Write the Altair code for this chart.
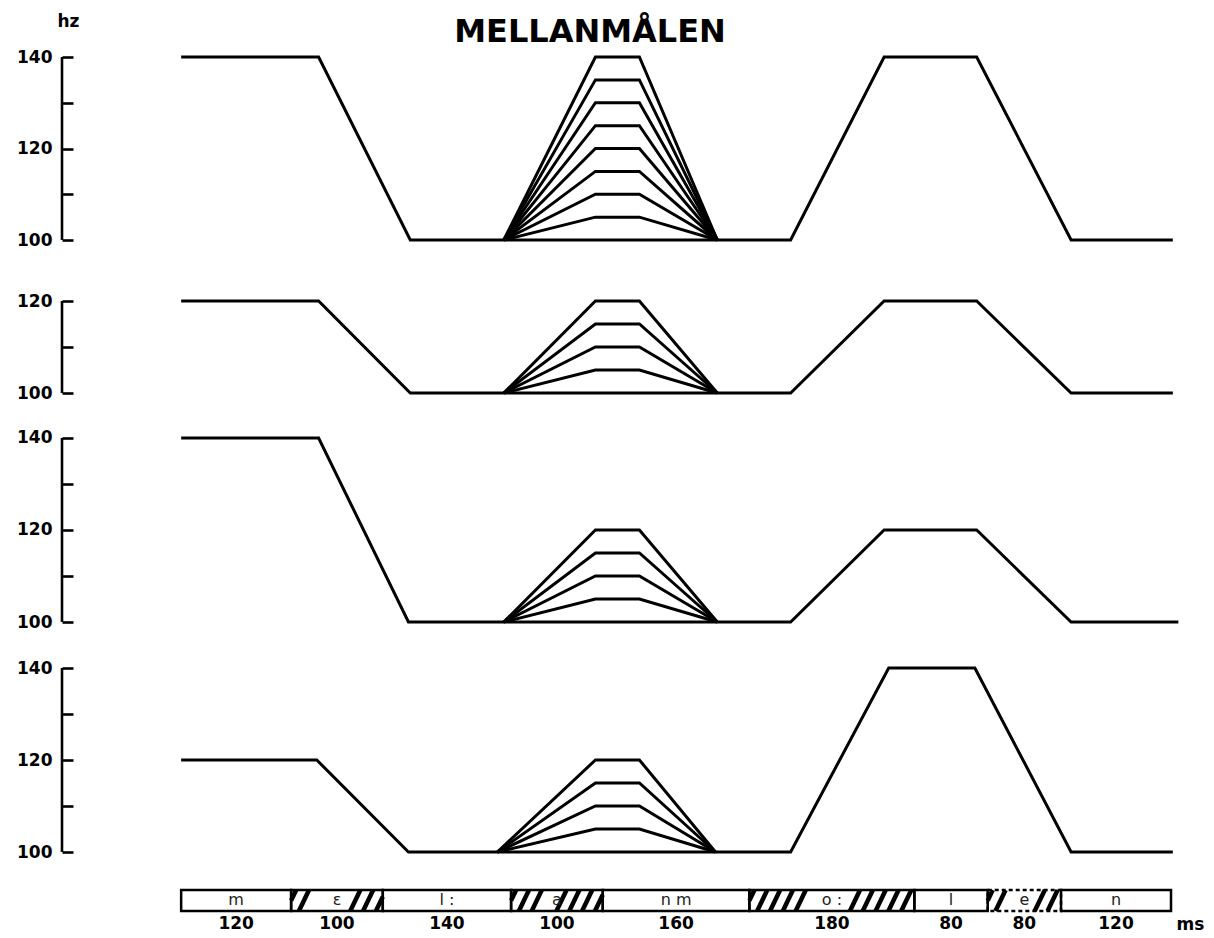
import altair as alt
import numpy as np
import pandas as pd

FONT = "DejaVu Sans"
TITLE = "MELLANMÅLEN"
X_DOMAIN = [-130, 1080]
PLOT_W = 1109

# ---------------- F0 contours (time in ms, frequency in Hz) ----------------
p1_t = [0, 150, 250, 665, 767, 868, 971, 1082]
p1_hz = [140, 140, 100, 100, 140, 140, 100, 100]
p1_fan_t = [352, 452, 500, 585]
p1_fan = [105, 110, 115, 120, 125, 130, 135, 140]

p2_t = [0, 150, 250, 665, 767, 868, 971, 1082]
p2_hz = [120, 120, 100, 100, 120, 120, 100, 100]
p2_fan_t = [352, 452, 500, 585]
p2_fan = [105, 110, 115, 120]

p3_t = [0, 150, 248, 665, 767, 868, 971, 1088]
p3_hz = [140, 140, 100, 100, 120, 120, 100, 100]
p3_fan_t = [352, 452, 500, 585]
p3_fan = [105, 110, 115, 120]

p4_t = [0, 148, 248, 665, 772, 866, 971, 1082]
p4_hz = [120, 120, 100, 100, 140, 140, 100, 100]
p4_fan_t = [345, 452, 500, 583]
p4_fan = [105, 110, 115, 120]

ticks_140 = [100, 110, 120, 130, 140]
ticks_120 = [100, 110, 120]

# ---------------- segment bar ----------------
seg_labels = ["m", "ε", "l :", "a", "n m", "o :", "l", "e", "n"]
seg_durations = [120, 100, 140, 100, 160, 180, 80, 80, 120]
seg_dashed = [False, False, False, False, False, False, False, True, False]
# hatched share of each segment (left part, right part)
hatch_left = [0, 0.25, 0, 0.30, 0, 0.35, 0, 0.29, 0]
hatch_right = [0, 0.30, 0, 0.45, 0, 0.36, 0, 0.29, 0]
HATCH_GAP = 14
HATCH_SLANT = 11

LINE_W = 3
GAP = 38


def contour_panel(t, hz, fan_t, fan, scale_top, height, ticks, axis_title=None):
    rows = [{"t": a, "hz": b, "line": "base"} for a, b in zip(t, hz)]
    for lvl in fan:
        for a, b in zip(fan_t, [100, lvl, lvl, 100]):
            rows.append({"t": a, "hz": b, "line": f"fan{lvl}"})
    df = pd.DataFrame(rows)
    xs = alt.Scale(domain=X_DOMAIN, nice=False, zero=False)
    ys = alt.Scale(domain=[100, scale_top], nice=False, zero=False)
    axis_kw = dict(
        values=ticks,
        labelExpr="datum.value % 20 === 0 ? datum.label : ''",
        tickSize=11, offset=-11, domain=False, grid=False,
        tickColor="black", tickWidth=2.6,
        labelFont=FONT, labelFontWeight="bold", labelFontSize=17,
        labelColor="black", labelPadding=10, labelOverlap=False,
        title=axis_title,
    )
    if axis_title:
        axis_kw.update(titleAngle=0, titleX=-5, titleY=-31, titleAlign="center",
                       titleBaseline="alphabetic", titleFont=FONT,
                       titleFontWeight="bold", titleFontSize=17, titleColor="black")
    yaxis = alt.Axis(**axis_kw)
    lines = alt.Chart(df).mark_line(color="black", strokeWidth=LINE_W, strokeJoin="miter").encode(
        x=alt.X("t:Q", scale=xs, axis=None),
        y=alt.Y("hz:Q", scale=ys, axis=yaxis),
        detail="line:N",
    )
    spine = alt.Chart(pd.DataFrame({"lo": [min(ticks)], "hi": [max(ticks)]})).mark_rule(
        color="black", strokeWidth=2.6
    ).encode(
        x=alt.value(0),
        y=alt.Y("lo:Q", scale=ys, axis=yaxis),
        y2="hi:Q",
    )
    return alt.layer(spine, lines).properties(width=PLOT_W, height=height)


p1 = contour_panel(p1_t, p1_hz, p1_fan_t, p1_fan, 140, 183, ticks_140, axis_title="hz")
title_mark = alt.Chart(pd.DataFrame({"txt": [TITLE]})).mark_text(
    font=FONT, fontSize=32, fontWeight="bold", baseline="alphabetic", align="center", color="black"
).encode(x=alt.value(528), y=alt.value(-15), text="txt:N")
p1 = alt.layer(p1, title_mark)

p2 = contour_panel(p2_t, p2_hz, p2_fan_t, p2_fan, 125, 115, ticks_120)
p3 = contour_panel(p3_t, p3_hz, p3_fan_t, p3_fan, 141.52, 191, ticks_140)
p4 = contour_panel(p4_t, p4_hz, p4_fan_t, p4_fan, 141.74, 192, ticks_140)

# ---------------- segment bar panel ----------------
seg_start = np.cumsum([0] + seg_durations[:-1])
seg_end = seg_start + np.array(seg_durations)
seg_df = pd.DataFrame({
    "label": seg_labels,
    "dur": seg_durations,
    "start": seg_start,
    "end": seg_end,
    "mid": (seg_start + seg_end) / 2,
    "dashed": seg_dashed,
})
seg_df["y0"] = 0.0
seg_df["y1"] = 1.0
seg_df["ylab"] = 0.5
seg_df["ydur"] = -0.63

hatch_rows = []
for s, e, fl, fr in zip(seg_start, seg_end, hatch_left, hatch_right):
    d = e - s
    zones = []
    if fl > 0:
        zones.append((s, s + fl * d))
    if fr > 0:
        zones.append((e - fr * d, e))
    for z0, z1 in zones:
        x0 = z0 - HATCH_SLANT / 2
        while x0 + HATCH_SLANT / 2 <= z1 + 1e-9:
            ya = max(0.0, (s - x0) / HATCH_SLANT)
            yb = min(1.0, (e - x0) / HATCH_SLANT)
            if yb > ya:
                hatch_rows.append({"xa": x0 + HATCH_SLANT * ya, "ya": ya,
                                   "xb": x0 + HATCH_SLANT * yb, "yb": yb})
            x0 += HATCH_GAP
hatch_df = pd.DataFrame(hatch_rows)

bxs = alt.Scale(domain=X_DOMAIN, nice=False, zero=False)
bys = alt.Scale(domain=[-0.905, 1], nice=False, zero=False)
bar_xaxis = alt.Axis(
    title="ms", labels=False, ticks=False, domain=False, grid=False,
    titleX=1128, titleY=-6, titleAngle=0, titleAlign="center", titleBaseline="middle",
    titleFont=FONT, titleFontSize=17, titleFontWeight="bold", titleColor="black",
)


def bx(field):
    return alt.X(field, scale=bxs, axis=bar_xaxis)


def by(field):
    return alt.Y(field, scale=bys, axis=None)


base = alt.Chart(seg_df)
boxes_fill = base.mark_rect(fill="white", stroke=None).encode(
    x=bx("start:Q"), x2="end:Q", y=by("y0:Q"), y2="y1:Q")
hatch = alt.Chart(hatch_df).mark_rule(color="black", strokeWidth=4.5, strokeCap="butt").encode(
    x=bx("xa:Q"), x2="xb:Q", y=by("ya:Q"), y2="yb:Q")
dashed_outline = base.transform_filter("datum.dashed").mark_rect(
    fillOpacity=0, stroke="black", strokeWidth=2.5, strokeDash=[4, 3]
).encode(x=bx("start:Q"), x2="end:Q", y=by("y0:Q"), y2="y1:Q")
solid_outline = base.transform_filter("!datum.dashed").mark_rect(
    fillOpacity=0, stroke="black", strokeWidth=2.5
).encode(x=bx("start:Q"), x2="end:Q", y=by("y0:Q"), y2="y1:Q")
seg_text = base.mark_text(font=FONT, fontSize=16, color="#222", baseline="middle", align="center").encode(
    x=bx("mid:Q"), y=by("ylab:Q"), text="label:N")
dur_text = base.mark_text(font=FONT, fontSize=17, fontWeight="bold", color="black",
                          baseline="middle", align="center").encode(
    x=bx("mid:Q"), y=by("ydur:Q"), text="dur:Q")

bar = alt.layer(boxes_fill, hatch, dashed_outline, solid_outline, seg_text, dur_text).properties(
    width=PLOT_W, height=40)

# ---------------- composition ----------------
chart = alt.vconcat(p1, p2, p3, p4, bar, spacing=GAP, bounds="flush").resolve_scale(
    x="independent", y="independent"
).properties(
    padding={"left": 8, "top": 4, "right": 0, "bottom": 0},
    background="white",
).configure_view(stroke=None)

chart.save("out.html", embed_options={"renderer": "svg", "actions": False})
